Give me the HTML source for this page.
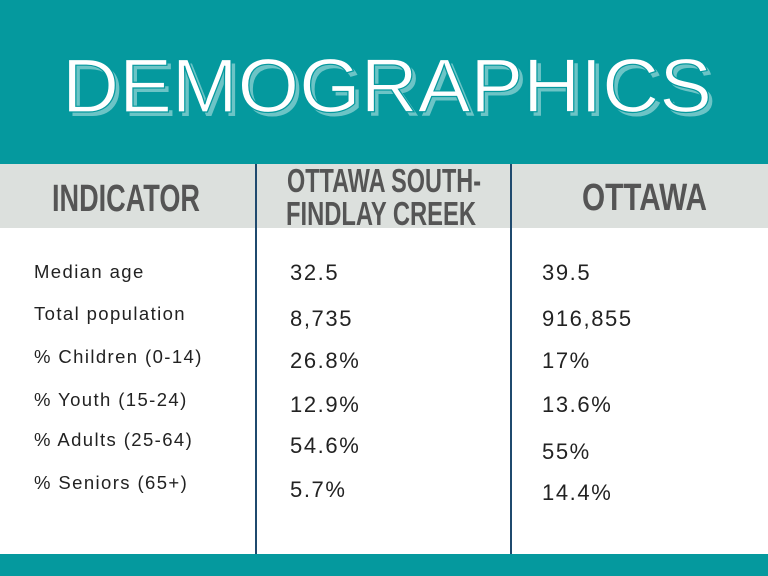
<!DOCTYPE html>
<html><head><meta charset="utf-8"><style>
html,body{margin:0;padding:0;width:768px;height:576px;overflow:hidden;background:#fff}
svg{display:block}
.h{font-family:"Liberation Sans Narrow","Liberation Sans",sans-serif;font-weight:bold;fill:#555}
.l{font-family:"Liberation Sans",sans-serif;font-size:18.5px;letter-spacing:1.4px;fill:#222}
.v{font-family:"Liberation Sans",sans-serif;font-size:22px;letter-spacing:1.6px;fill:#222}
</style></head><body>
<svg width="768" height="576" viewBox="0 0 768 576">
<rect x="0" y="0" width="768" height="164" fill="#05999e"/>
<text x="66" y="116" font-family="Liberation Sans,sans-serif" font-size="76" fill="#6cc4c6" textLength="650" lengthAdjust="spacingAndGlyphs">DEMOGRAPHICS</text>
<text x="62" y="112" font-family="Liberation Sans,sans-serif" font-size="76" fill="#fff" stroke="#05999e" stroke-width="1.2" textLength="650" lengthAdjust="spacingAndGlyphs">DEMOGRAPHICS</text>
<rect x="0" y="164" width="768" height="64" fill="#dce0dd"/>
<text class="h" x="52" y="211" font-size="38" textLength="148" lengthAdjust="spacingAndGlyphs">INDICATOR</text>
<text class="h" x="287" y="192" font-size="33" textLength="194" lengthAdjust="spacingAndGlyphs">OTTAWA SOUTH-</text>
<text class="h" x="286" y="225" font-size="33" textLength="190" lengthAdjust="spacingAndGlyphs">FINDLAY CREEK</text>
<text class="h" x="582" y="210" font-size="38" textLength="125" lengthAdjust="spacingAndGlyphs">OTTAWA</text>
<rect x="255" y="164" width="2" height="390" fill="#1f4a6e"/>
<rect x="510" y="164" width="2" height="390" fill="#1f4a6e"/>
<rect x="0" y="554" width="768" height="22" fill="#05999e"/>
<g>
<text class="l" x="34" y="278">Median age</text>
<text class="l" x="34" y="320">Total population</text>
<text class="l" x="34" y="363">% Children (0-14)</text>
<text class="l" x="34" y="406">% Youth (15-24)</text>
<text class="l" x="34" y="446">% Adults (25-64)</text>
<text class="l" x="34" y="489">% Seniors (65+)</text>
</g>
<g>
<text class="v" x="290" y="280">32.5</text>
<text class="v" x="290" y="326">8,735</text>
<text class="v" x="290" y="368">26.8%</text>
<text class="v" x="290" y="412">12.9%</text>
<text class="v" x="290" y="453">54.6%</text>
<text class="v" x="290" y="497">5.7%</text>
</g>
<g>
<text class="v" x="542" y="280">39.5</text>
<text class="v" x="542" y="326">916,855</text>
<text class="v" x="542" y="368">17%</text>
<text class="v" x="542" y="412">13.6%</text>
<text class="v" x="542" y="459">55%</text>
<text class="v" x="542" y="500">14.4%</text>
</g>
</svg>
</body></html>
